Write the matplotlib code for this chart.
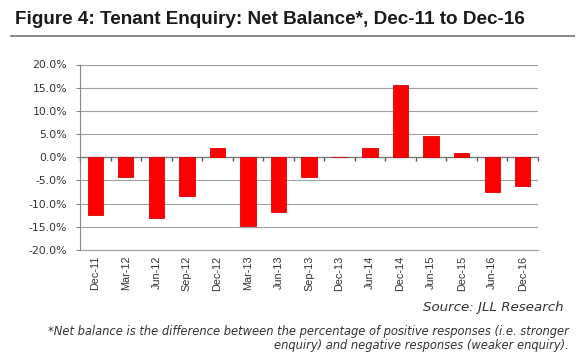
import matplotlib
matplotlib.use("Agg")
import matplotlib.pyplot as plt
import numpy as np

plt.rcParams['font.family'] = ['Liberation Sans', 'DejaVu Sans']

categories = ["Dec-11", "Mar-12", "Jun-12", "Sep-12", "Dec-12", "Mar-13", "Jun-13",
              "Sep-13", "Dec-13", "Jun-14", "Dec-14", "Jun-15", "Dec-15", "Jun-16", "Dec-16"]
net_balance = [-12.5, -4.3, -13.0, -8.3, 2.0, -14.8, -11.9,
               -4.2, 0.0, 2.0, 15.5, 4.6, 0.9, -7.6, -6.2]
yticks = [-20, -15, -10, -5, 0, 5, 10, 15, 20]

W, H = 580, 352
fig = plt.figure(figsize=(W / 100, H / 100), dpi=100)
ax = fig.add_axes([80 / W, 1 - 250 / H, (538 - 80) / W, (250 - 64.5) / H])

x = np.arange(len(categories))
ax.bar(x, net_balance, width=0.5, color='#ff0000', edgecolor='#e00000', linewidth=0.6, zorder=3)

ax.set_xlim(-0.5, len(categories) - 0.5)
ax.set_ylim(-20, 20)
ax.set_yticks(yticks)
ax.set_yticklabels([f"{v:.1f}%" for v in yticks], fontsize=7.8, color='#333333',
                   family='DejaVu Sans')
ax.tick_params(axis='y', length=2.9, color='#888888', width=0.8, pad=6.5)
for v in yticks:
    ax.axhline(v, color='#a0a0a0', linewidth=0.8, zorder=1)

for s in ['top', 'right']:
    ax.spines[s].set_visible(False)
ax.spines['left'].set_color('#888888')
ax.spines['left'].set_linewidth(0.8)

# category axis crossing at zero with boundary tick marks
ax.spines['bottom'].set_position(('data', 0))
ax.spines['bottom'].set_color('#777777')
ax.spines['bottom'].set_linewidth(0.9)
ax.set_xticks(x)
ax.set_xticklabels([])
ax.tick_params(axis='x', which='major', length=0)
ax.set_xticks(np.arange(-0.5, len(categories), 1.0), minor=True)
ax.tick_params(axis='x', which='minor', length=3, direction='out', color='#555555', width=1.0)

# labels at bottom
sec = ax.secondary_xaxis('bottom')
sec.set_xticks(x)
sec.set_xticklabels(categories, rotation=90, fontsize=7.8, color='#333333')
sec.tick_params(length=0, pad=4)
sec.spines['bottom'].set_color('#a0a0a0')
sec.spines['bottom'].set_linewidth(0.8)

# title and rule
fig.text(15 / W, 1 - 20 / H, "Figure 4: Tenant Enquiry: Net Balance*, Dec-11 to Dec-16",
         fontsize=13.6, fontweight='bold', color='#1a1a1a', ha='left', va='center')
fig.add_artist(plt.Line2D([11 / W, 574 / W], [1 - 36 / H, 1 - 36 / H],
                          color='#888888', linewidth=1.4, transform=fig.transFigure))

fig.text(564 / W, 1 - 308 / H, "Source: JLL Research", fontsize=9.6, style='italic',
         color='#333333', ha='right', va='center', family='DejaVu Sans')
fig.text(569 / W, 1 - 331 / H,
         "*Net balance is the difference between the percentage of positive responses (i.e. stronger",
         fontsize=8.3, style='italic', color='#333333', ha='right', va='center',
         family='DejaVu Sans')
fig.text(569 / W, 1 - 346 / H,
         "enquiry) and negative responses (weaker enquiry).",
         fontsize=8.3, style='italic', color='#333333', ha='right', va='center',
         family='DejaVu Sans')

fig.savefig("out.png", dpi=100)
